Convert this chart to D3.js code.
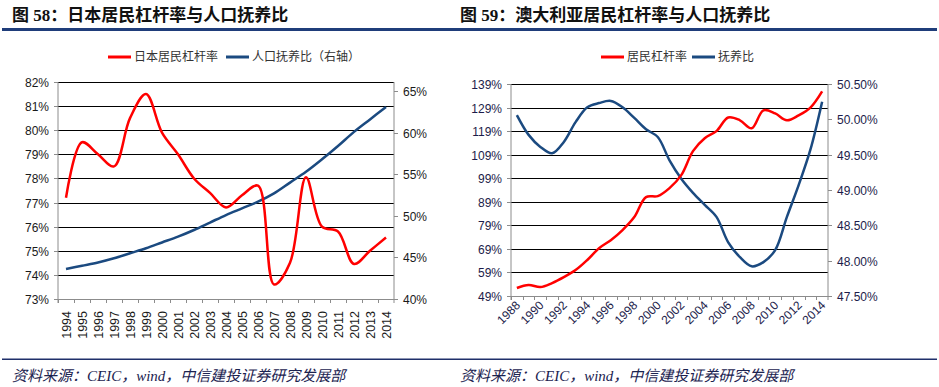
<!DOCTYPE html>
<html>
<head>
<meta charset="utf-8">
<script src="https://cdn.jsdelivr.net/npm/d3@7"></script>
<style>
  body { margin: 0; background: #fff; }
  svg { display: block; }
  .tick-label { font-family: "Liberation Sans", Arial, sans-serif; font-size: 12px; }
  .legend-label { font-family: "Noto Sans CJK SC", sans-serif; font-size: 12px; fill: #333; }
  .title { font-family: "Liberation Serif", "Noto Sans CJK SC", serif; font-size: 17px; font-weight: bold; fill: #111; }
  .source { font-family: "Liberation Serif", "Noto Sans CJK SC", serif; font-size: 15px; font-style: italic; fill: #1b2350; }
</style>
</head>
<body>
<svg id="chart" width="939" height="387"></svg>
<script>
// Japan (figure 58)
const jpYears = d3.range(1994, 2015).map(String);
const jpLeverage = [77.2, 79.5, 79.0, 78.5, 80.5, 81.5, 79.9, 79.0, 78.0, 77.4, 76.8, 77.3, 77.7,
    73.6, 74.5, 78.05, 76.0, 75.8, 74.45, 75.0, 75.55];
const jpDependency = [43.6, 44.0, 44.4, 44.9, 45.5, 46.1, 46.8, 47.5, 48.3, 49.2, 50.1, 50.9, 51.7,
    52.7, 54.0, 55.3, 56.8, 58.4, 60.1, 61.6, 63.1];
const jpLeftTicks = [73, 74, 75, 76, 77, 78, 79, 80, 81, 82];
const jpRightTicks = [40, 45, 50, 55, 60, 65];

// Australia (figure 59)
const auYears = d3.range(1988, 2015).map(String);
const auLeverage = [52.4, 53.7, 52.8, 54.5, 57, 60, 64.3, 69.3, 72.7, 77, 82.5, 91, 91.4, 94.8,
    100.3, 110.5, 116, 119, 124.8, 123.6, 120.2, 127.8, 126.5, 123.6, 125.7, 129, 135.9];
const auDependency = [50.06, 49.78, 49.61, 49.52, 49.68, 49.96, 50.17, 50.23, 50.26, 50.17, 50.02,
    49.86, 49.75, 49.42, 49.16, 48.96, 48.79, 48.62, 48.26, 48.05, 47.92, 47.98, 48.15, 48.62,
    49.07, 49.57, 50.25];
const auLeftTicks = [49, 59, 69, 79, 89, 99, 109, 119, 129, 139];
const auRightTicks = [47.5, 48, 48.5, 49, 49.5, 50, 50.5];

const RED = "#ff0000";
const BLUE = "#1b4a80";

const svg = d3.select("#chart");

// header and footer rules
svg.append("rect").attr("x", 2).attr("y", 28).attr("width", 935).attr("height", 3).attr("fill", "#1f3d7a");
svg.append("rect").attr("x", 2).attr("y", 358.5).attr("width", 935).attr("height", 1.5).attr("fill", "#1f2f6a");

function drawPanel(opt) {
    const g = svg.append("g");

    g.append("text").attr("class", "title").attr("x", opt.titleX).attr("y", 21).text(opt.title);
    g.append("text").attr("class", "source").attr("x", opt.titleX).attr("y", 381)
        .text("资料来源：CEIC，wind，中信建投证券研究发展部");

    const x = d3.scaleBand().domain(opt.years).range([opt.left, opt.right]);
    const yL = d3.scaleLinear().domain(opt.leftDomain).range([opt.bottom, opt.top]);
    const yR = d3.scaleLinear().domain(opt.rightDomain).range([opt.bottom, opt.top]);

    // gridlines
    g.selectAll(".grid").data(opt.leftTicks.slice(1)).enter().append("line")
        .attr("x1", opt.left).attr("x2", opt.right)
        .attr("y1", d => Math.round(yL(d)) + 0.5).attr("y2", d => Math.round(yL(d)) + 0.5)
        .attr("stroke", "#000").attr("stroke-width", 1.2);

    // axes
    const axisColor = "#8c8c8c";
    g.append("line").attr("x1", opt.left).attr("x2", opt.left).attr("y1", opt.top).attr("y2", opt.bottom + 4)
        .attr("stroke", axisColor);
    g.append("line").attr("x1", opt.right).attr("x2", opt.right).attr("y1", opt.top).attr("y2", opt.bottom + 4)
        .attr("stroke", axisColor);
    g.append("line").attr("x1", opt.left).attr("x2", opt.right).attr("y1", opt.bottom + 0.5).attr("y2", opt.bottom + 0.5)
        .attr("stroke", axisColor);

    // left ticks + labels
    opt.leftTicks.forEach(t => {
        const y = Math.round(yL(t)) + 0.5;
        g.append("line").attr("x1", opt.left - 4).attr("x2", opt.left).attr("y1", y).attr("y2", y).attr("stroke", axisColor);
        g.append("text").attr("class", "tick-label").attr("x", opt.left - 9).attr("y", y + 4)
            .attr("text-anchor", "end").attr("fill", opt.labelColor).text(opt.leftFormat(t));
    });
    // right ticks + labels
    opt.rightTicks.forEach(t => {
        const y = Math.round(yR(t)) + 0.5;
        g.append("line").attr("x1", opt.right).attr("x2", opt.right + 4).attr("y1", y).attr("y2", y).attr("stroke", axisColor);
        g.append("text").attr("class", "tick-label").attr("x", opt.right + 9).attr("y", y + 4)
            .attr("fill", opt.labelColor).text(opt.rightFormat(t));
    });

    // x ticks at category boundaries
    opt.years.forEach((yr, i) => {
        const xb = Math.round(x(yr)) + 0.5;
        g.append("line").attr("x1", xb).attr("x2", xb).attr("y1", opt.bottom).attr("y2", opt.bottom + 4).attr("stroke", axisColor);
    });

    // x labels
    opt.years.forEach((yr, i) => {
        if (i % opt.labelEvery !== 0) return;
        const cx = x(yr) + x.bandwidth() / 2;
        if (opt.rotate === -90) {
            g.append("text").attr("class", "tick-label").attr("fill", opt.labelColor)
                .attr("text-anchor", "end").style("font-size", "12.5px")
                .attr("transform", `translate(${cx + 4.5},${opt.bottom + 12}) rotate(-90)`)
                .text(yr);
        } else {
            g.append("text").attr("class", "tick-label").attr("fill", opt.labelColor)
                .attr("text-anchor", "end")
                .attr("transform", `translate(${cx + 4},${opt.bottom + 10}) rotate(-45)`)
                .text(yr);
        }
    });

    // lines
    const lineL = d3.line().x((d, i) => x(opt.years[i]) + x.bandwidth() / 2).y(d => yL(d)).curve(d3.curveCatmullRom.alpha(0.5));
    const lineR = d3.line().x((d, i) => x(opt.years[i]) + x.bandwidth() / 2).y(d => yR(d)).curve(d3.curveCatmullRom.alpha(0.5));

    g.append("path").datum(opt.rightData).attr("d", lineR).attr("fill", "none")
        .attr("stroke", BLUE).attr("stroke-width", 2.5);
    g.append("path").datum(opt.leftData).attr("d", lineL).attr("fill", "none")
        .attr("stroke", RED).attr("stroke-width", 2.5);

    // legend
    const lg = g.append("g");
    lg.append("line").attr("x1", opt.legend[0]).attr("x2", opt.legend[0] + 23).attr("y1", 57).attr("y2", 57)
        .attr("stroke", RED).attr("stroke-width", 3);
    lg.append("text").attr("class", "legend-label").attr("x", opt.legend[0] + 26).attr("y", 61).text(opt.legendNames[0]);
    lg.append("line").attr("x1", opt.legend[1]).attr("x2", opt.legend[1] + 23).attr("y1", 57).attr("y2", 57)
        .attr("stroke", BLUE).attr("stroke-width", 3);
    lg.append("text").attr("class", "legend-label").attr("x", opt.legend[1] + 26).attr("y", 61).text(opt.legendNames[1]);
}

drawPanel({
    title: "图 58：日本居民杠杆率与人口抚养比",
    titleX: 12,
    years: jpYears,
    left: 58, right: 394, top: 82, bottom: 299,
    leftDomain: [73, 82], rightDomain: [40, 66.1],
    leftTicks: jpLeftTicks, rightTicks: jpRightTicks,
    leftFormat: d => d + "%", rightFormat: d => d + "%",
    leftData: jpLeverage, rightData: jpDependency,
    labelColor: "#1a1a1a",
    labelEvery: 1, rotate: -90,
    legend: [108, 226],
    legendNames: ["日本居民杠杆率", "人口抚养比（右轴）"]
});

drawPanel({
    title: "图 59：澳大利亚居民杠杆率与人口抚养比",
    titleX: 460,
    years: auYears,
    left: 511, right: 828, top: 84, bottom: 296,
    leftDomain: [49, 139], rightDomain: [47.5, 50.5],
    leftTicks: auLeftTicks, rightTicks: auRightTicks,
    leftFormat: d => d + "%", rightFormat: d => d.toFixed(2) + "%",
    leftData: auLeverage, rightData: auDependency,
    labelColor: "#1c1c4a",
    labelEvery: 2, rotate: -45,
    legend: [601, 692],
    legendNames: ["居民杠杆率", "抚养比"]
});
</script>
</body>
</html>
